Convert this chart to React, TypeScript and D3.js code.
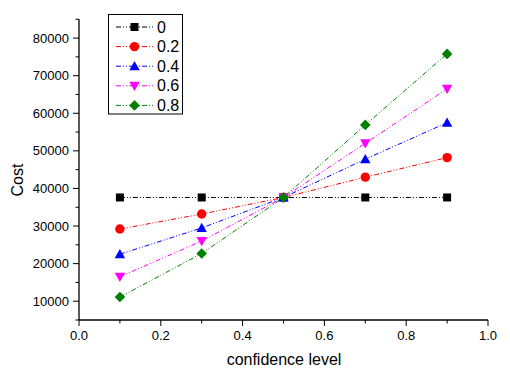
import React from "react";
import * as d3 from "d3";

const xValues = [0.1, 0.3, 0.5, 0.7, 0.9];
const seriesNames = ["0", "0.2", "0.4", "0.6", "0.8"];
const s0 = [37600, 37600, 37600, 37600, 37600];
const s02 = [29200, 33200, 37600, 43000, 48200];
const s04 = [22500, 29500, 37600, 47800, 57500];
const s06 = [16500, 26000, 37600, 52000, 66500];
const s08 = [11100, 22700, 37600, 56900, 75800];
const xTicks = [0, 0.2, 0.4, 0.6, 0.8, 1.0];
const yTicks = [10000, 20000, 30000, 40000, 50000, 60000, 70000, 80000];

const colors = ["#000000", "#ff0000", "#0000ff", "#ff00ff", "#008000"];
const shapes = ["square", "circle", "triangle", "triangleDown", "diamond"];

function marker(shape: string, x: number, y: number, color: string, key?: any) {
  const s = 4;
  switch (shape) {
    case "square":
      return <rect key={key} x={x - s} y={y - s} width={2 * s} height={2 * s} fill={color} />;
    case "circle":
      return <circle key={key} cx={x} cy={y} r={s + 0.7} fill={color} />;
    case "triangle":
      return <path key={key} d={`M${x},${y - s - 1.2}L${x + s + 1.2},${y + s}L${x - s - 1.2},${y + s}Z`} fill={color} />;
    case "triangleDown":
      return <path key={key} d={`M${x},${y + s + 1.2}L${x + s + 1.2},${y - s}L${x - s - 1.2},${y - s}Z`} fill={color} />;
    default:
      return <path key={key} d={`M${x},${y - s - 1.3}L${x + s + 1.3},${y}L${x},${y + s + 1.3}L${x - s - 1.3},${y}Z`} fill={color} />;
  }
}

export default function App() {
  const W = 510, H = 380;
  const x = d3.scaleLinear().domain([0, 1]).range([79, 488]);
  const y = d3.scaleLinear().domain([5000, 85000]).range([320, 19.3]);
  const data = [s0, s02, s04, s06, s08];
  const line = d3.line<number>().x((_, i) => x(xValues[i])).y((d) => y(d));
  const dash = "5,2,1,2,1,2";
  const font = "Arial, 'Liberation Sans', sans-serif";
  const yMinor = d3.range(5000, 85001, 5000);
  const xMinor = d3.range(0, 1.0001, 0.1);

  return (
    <svg width={W} height={H} style={{ position: "absolute", left: 0, top: 0, background: "#fff" }} fontFamily={font}>
      {data.map((d, k) => (
        <path key={k} d={line(d) || ""} fill="none" stroke={colors[k]} strokeWidth={1} strokeDasharray={dash} />
      ))}
      {data.map((d, k) => d.map((v, i) => marker(shapes[k], x(xValues[i]), y(v), colors[k], `${k}-${i}`)))}
      <line x1={x(0)} x2={x(0)} y1={y(85000)} y2={y(5000)} stroke="#000" strokeWidth={1.3} />
      <line x1={x(0)} x2={x(1)} y1={y(5000)} y2={y(5000)} stroke="#000" strokeWidth={1.3} />
      {yMinor.map((v) => (
        <line key={"ym" + v} x1={x(0)} x2={x(0) - (v % 10000 === 0 ? 6 : 3.5)} y1={y(v)} y2={y(v)} stroke="#000" strokeWidth={1} />
      ))}
      {xMinor.map((v, i) => (
        <line key={"xm" + i} x1={x(v)} x2={x(v)} y1={y(5000)} y2={y(5000) + (i % 2 === 0 ? 6 : 3.5)} stroke="#000" strokeWidth={1} />
      ))}
      {yTicks.map((v) => (
        <text key={"yl" + v} x={x(0) - 10} y={y(v)} dy="0.35em" textAnchor="end" fontSize={13}>{v}</text>
      ))}
      {xTicks.map((v) => (
        <text key={"xl" + v} x={x(v)} y={340} textAnchor="middle" fontSize={13}>{v.toFixed(1)}</text>
      ))}
      <text x={284} y={365} textAnchor="middle" fontSize={16}>confidence level</text>
      <text transform={`translate(23,180) rotate(-90)`} textAnchor="middle" fontSize={16}>Cost</text>
      <rect x={108.5} y={14.5} width={74} height={99.5} fill="#fff" stroke="#000" strokeWidth={1} />
      {seriesNames.map((n, k) => {
        const ly = 27 + k * 19.6;
        return (
          <g key={"lg" + k}>
            <line x1={116} x2={153} y1={ly} y2={ly} stroke={colors[k]} strokeWidth={1} strokeDasharray={dash} />
            {marker(shapes[k], 134.5, ly, colors[k])}
            <text x={157} y={ly} dy="0.35em" fontSize={16}>{n}</text>
          </g>
        );
      })}
    </svg>
  );
}
